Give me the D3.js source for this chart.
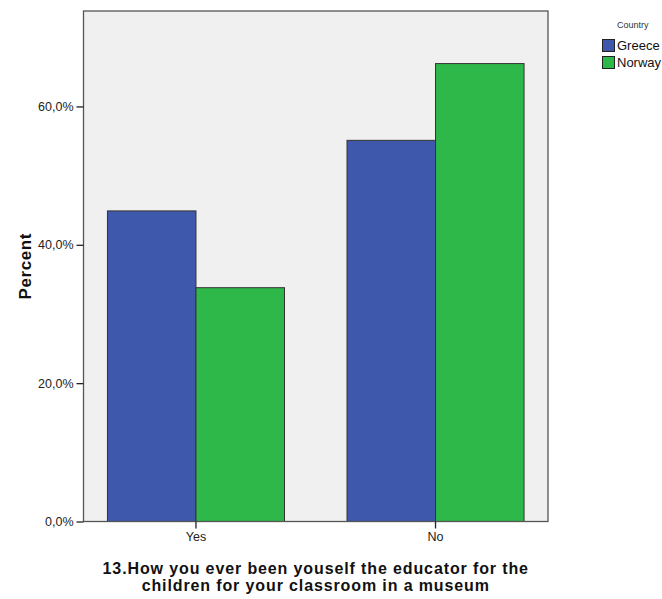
<!DOCTYPE html>
<html><head><meta charset="utf-8">
<script src="https://cdn.jsdelivr.net/npm/d3@7"></script>
<style>body{margin:0;background:#fff}svg{display:block}</style>
</head><body>
<svg id="c" width="662" height="599"></svg>
<script>
const categories = ["Yes", "No"];
const seriesNames = ["Greece", "Norway"];
const greece = [44.9, 55.1];
const norway = [33.8, 66.2];
const yTicks = [0, 20, 40, 60];
const colors = ["#3e58ab", "#2fb84a"];
const xTitle = ["13.How you ever been youself the educator for the", "children for your classroom in a museum"];

const svg = d3.select("#c");
const m = {left: 83.5, top: 11, right: 548, bottom: 521.5};
const y = d3.scaleLinear().domain([0, 73.8]).range([m.bottom, m.top]);
const x0 = d3.scaleBand().domain(categories).range([m.left, m.right]).paddingInner(0.261).paddingOuter(0.1);
const x1 = d3.scaleBand().domain(seriesNames).range([0, x0.bandwidth()]);
const values = [greece, norway];

svg.append("rect").attr("x", m.left).attr("y", m.top).attr("width", m.right - m.left).attr("height", m.bottom - m.top)
  .attr("fill", "#f0f0f0");

categories.forEach((c, i) => {
  seriesNames.forEach((s, j) => {
    svg.append("rect")
      .attr("x", x0(c) + x1(s))
      .attr("y", y(values[j][i]))
      .attr("width", x1.bandwidth())
      .attr("height", y(0) - y(values[j][i]))
      .attr("fill", colors[j]).attr("stroke", "#333").attr("stroke-width", 1);
  });
});

svg.append("rect").attr("x", m.left).attr("y", m.top).attr("width", m.right - m.left).attr("height", m.bottom - m.top)
  .attr("fill", "none").attr("stroke", "#555").attr("stroke-width", 1.3);

const yAxis = svg.append("g").attr("transform", `translate(${m.left},0)`)
  .call(d3.axisLeft(y).tickValues(yTicks).tickSize(7).tickPadding(3)
    .tickFormat(d => d3.format(".1f")(d).replace(".", ",") + "%"));
yAxis.select(".domain").remove();
yAxis.selectAll("line").attr("stroke", "#222").attr("stroke-width", 1.3);
yAxis.selectAll("text").attr("font-family", "Liberation Sans, Arial, sans-serif").attr("font-size", 12.5).attr("fill", "#222");

const xAxis = svg.append("g").attr("transform", `translate(0,${m.bottom})`)
  .call(d3.axisBottom(x0).tickSize(7).tickPadding(4));
xAxis.select(".domain").remove();
xAxis.selectAll("line").attr("stroke", "#222").attr("stroke-width", 1.3);
xAxis.selectAll("text").attr("font-family", "Liberation Sans, Arial, sans-serif").attr("font-size", 12.5).attr("fill", "#222");

svg.append("text").attr("transform", `translate(30.5,${(m.top + m.bottom) / 2}) rotate(-90)`)
  .attr("text-anchor", "middle").attr("font-family", "Liberation Sans, Arial, sans-serif").attr("font-weight", "bold")
  .attr("font-size", 17).attr("letter-spacing", 0.6).attr("fill", "#111").text("Percent");

xTitle.forEach((t, i) => {
  svg.append("text").attr("x", (m.left + m.right) / 2).attr("y", 573.5 + i * 17.5)
    .attr("text-anchor", "middle").attr("font-family", "Liberation Sans, Arial, sans-serif").attr("font-weight", "bold")
    .attr("font-size", 16).attr("letter-spacing", 0.88).attr("fill", "#111").text(t);
});

const lg = svg.append("g");
lg.append("text").attr("x", 617).attr("y", 28).attr("font-family", "Liberation Sans, Arial, sans-serif")
  .attr("font-size", 9).attr("fill", "#333").text("Country");
seriesNames.forEach((s, j) => {
  lg.append("rect").attr("x", 602.5).attr("y", 39.5 + j * 17).attr("width", 12).attr("height", 12)
    .attr("fill", colors[j]).attr("stroke", "#222").attr("stroke-width", 1);
  lg.append("text").attr("x", 617).attr("y", 50 + j * 17).attr("font-family", "Liberation Sans, Arial, sans-serif")
    .attr("font-size", 13).attr("fill", "#111").text(s);
});
</script>
</body></html>
